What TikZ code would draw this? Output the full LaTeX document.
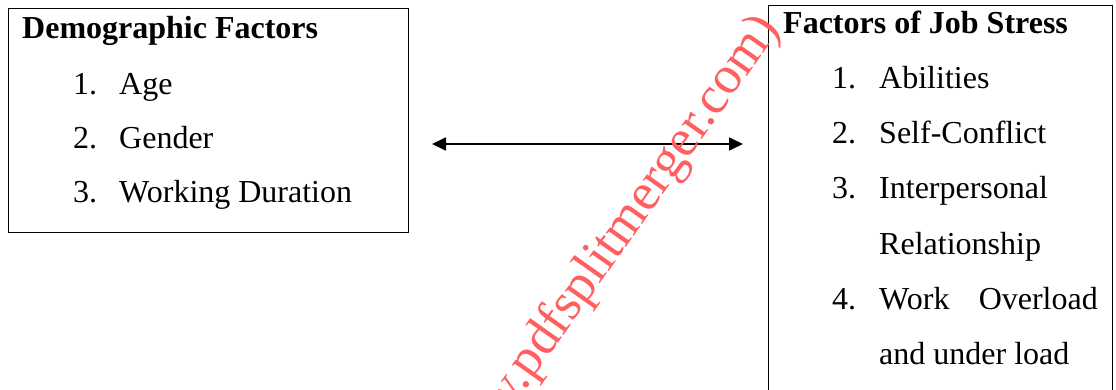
\documentclass[tikz,border=0pt]{standalone}
\usepackage{fontspec}
\setmainfont{Liberation Serif}
\usetikzlibrary{arrows.meta}
\definecolor{wm}{RGB}{255,95,95}
\tikzset{
  boxframe/.style={draw=black, line width=1.3pt, inner sep=0pt, anchor=north west},
  txt/.style={anchor=base west, inner sep=0pt, font=\fontsize{32}{37}\selectfont},
  ttl/.style={anchor=base west, inner sep=0pt, font=\fontsize{32}{37}\selectfont\bfseries},
  link/.style={line width=1.8pt, {Triangle[length=14pt,width=13pt]}-{Triangle[length=14pt,width=13pt]}},
  mark wm/.style={anchor=base west, inner sep=0pt, text=wm, font=\fontsize{53}{60}\selectfont, rotate=54.75}
}
\begin{document}
\begin{tikzpicture}[x=1pt,y=-1pt]
\useasboundingbox (0,0) rectangle (1116,390);
\clip (0,0) rectangle (1116,390);
\fill[white] (0,0) rectangle (1116,390);
% left box
\node[boxframe, minimum width=400pt, minimum height=224pt] (L) at (8,8) {};
\node[ttl] (Lt) at (22,39) {Demographic Factors};
\node[txt] (L1n) at (73,95) {1.};
\node[txt] (L1) at (119,95) {Age};
\node[txt] (L2n) at (73,149) {2.};
\node[txt] (L2) at (119,149) {Gender};
\node[txt] (L3n) at (73,203) {3.};
\node[txt] (L3) at (119,203) {Working Duration};
% right box
\node[boxframe, minimum width=344pt, minimum height=420pt] (R) at (768,5) {};
\node[ttl] (Rt) at (783,34) {Factors of Job Stress};
\node[txt] (R1n) at (832,89) {1.};
\node[txt] (R1) at (879,89) {Abilities};
\node[txt] (R2n) at (832,144) {2.};
\node[txt] (R2) at (879,144) {Self-Conflict};
\node[txt] (R3n) at (832,199) {3.};
\node[txt] (R3) at (879,199) {Interpersonal};
\node[txt] (R3b) at (879,254) {Relationship};
\node[txt] (R4n) at (832,309) {4.};
\node[txt] (R4) at (879,309) {Work};
\node[txt, anchor=base east] (R4c) at (1098,309) {Overload};
\node[txt] (R4b) at (879,364) {and under load};
% connector
\coordinate (a1) at (432,144);
\coordinate (a2) at (743,144);
\draw[link] (a1) -- (a2);
% watermark
\node[mark wm] (wmk) at (504,420) {w.pdfsplitmerger.com)};
\end{tikzpicture}
\end{document}
